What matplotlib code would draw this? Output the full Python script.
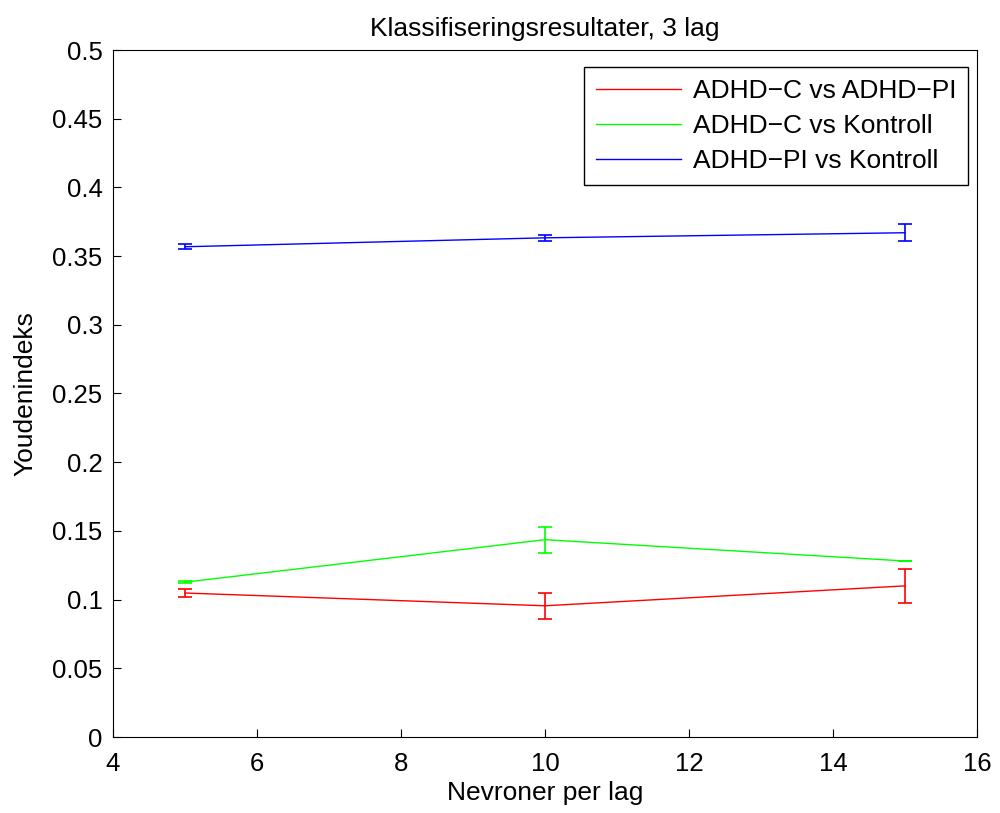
import matplotlib.pyplot as plt

plt.rcParams['font.family'] = ['Liberation Sans', 'DejaVu Sans']

# Antall nevroner per lag
neurons = [5, 10, 15]

# Youden-indeks (middelverdi og standardavvik)
c_vs_pi = [0.1048, 0.0955, 0.1100]
c_vs_pi_err = [0.0029, 0.0096, 0.0122]

c_vs_kontroll = [0.1127, 0.1436, 0.1281]
c_vs_kontroll_err = [0.0008, 0.0095, 0.0003]

pi_vs_kontroll = [0.3568, 0.3633, 0.3670]
pi_vs_kontroll_err = [0.0017, 0.0023, 0.0060]

labels = ['ADHD\u2212C vs ADHD\u2212PI', 'ADHD\u2212C vs Kontroll', 'ADHD\u2212PI vs Kontroll']

fig = plt.figure(figsize=(10, 8.13), dpi=100)
ax = fig.add_axes([0.113, 1 - 737 / 813, 0.864, 687 / 813])

for y, err, col, lab in zip([c_vs_pi, c_vs_kontroll, pi_vs_kontroll],
                            [c_vs_pi_err, c_vs_kontroll_err, pi_vs_kontroll_err],
                            ['#ff0000', '#00ff00', '#0000ff'], labels):
    ax.errorbar(neurons, y, yerr=err, color=col, lw=1, elinewidth=1.2,
                capsize=5, capthick=1.2, label=lab)

ax.set_xlim(4, 16)
ax.set_ylim(0, 0.5)
ax.set_xticks(range(4, 17, 2))
ax.set_yticks([i * 0.05 for i in range(11)])
ax.set_yticklabels(['0', '0.05', '0.1', '0.15', '0.2', '0.25', '0.3', '0.35', '0.4', '0.45', '0.5'])
ax.tick_params(direction='in', length=6, labelsize=18.5, top=False, right=False)
ax.tick_params(axis='x', pad=10.5)
ax.tick_params(axis='y', pad=7.5)
for s in ax.spines.values():
    s.set_linewidth(0.8)

ax.set_xlabel('Nevroner per lag', fontsize=19, labelpad=4)
ax.set_ylabel('Youdenindeks', fontsize=19, labelpad=11)
ax.set_title('Klassifiseringsresultater, 3 lag', fontsize=19, pad=10)

handles, labs = ax.get_legend_handles_labels()
handles = [h[0] for h in handles]
leg = ax.legend(handles, labs, loc='upper right', fontsize=19, fancybox=False,
                edgecolor='black', framealpha=1, handlelength=3.2,
                bbox_to_anchor=(0.968, 1 - 67 / 813), bbox_transform=fig.transFigure,
                borderaxespad=0, borderpad=0.45, labelspacing=0.42, handletextpad=0.45)
leg.get_frame().set_linewidth(1)

plt.savefig('out.png', dpi=100)
